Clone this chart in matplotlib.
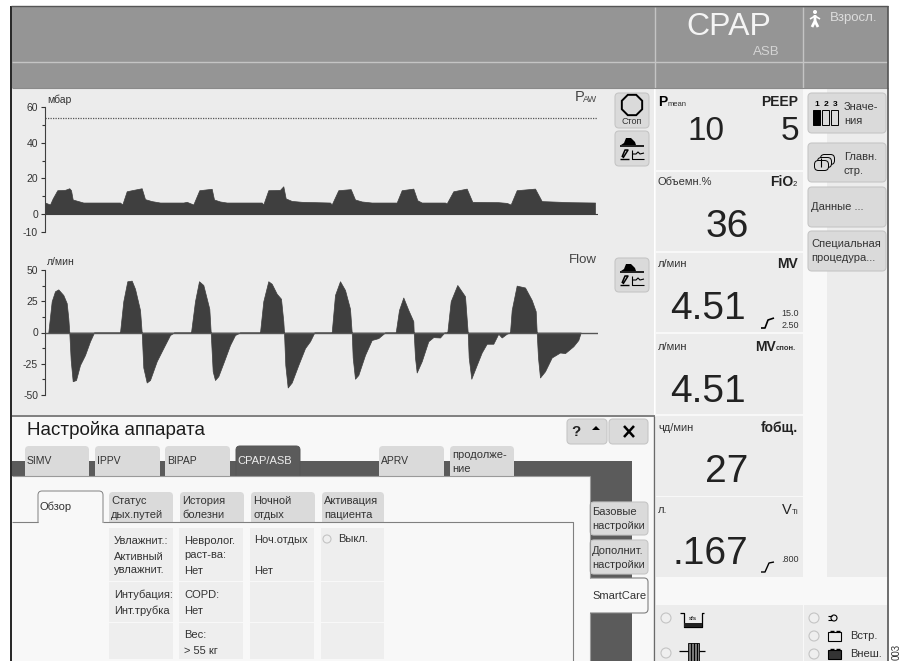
import matplotlib
matplotlib.use('Agg')
import matplotlib.pyplot as plt
from matplotlib.patches import Rectangle, FancyBboxPatch, Circle, RegularPolygon, Polygon

plt.rcParams['font.family'] = ['Liberation Sans', 'DejaVu Sans']
plt.rcParams['axes.unicode_minus'] = False

# one sample per screen pixel, sample 0 is the y axis
pressure_t = [0, 5, 7.7, 12.3, 20, 24.3, 26, 27.7, 33.3, 38.3, 75, 77.3, 81.7, 86.7, 96.7, 100,
              106.7, 115, 138.3, 141.7, 148.3, 154.3, 166.7, 169, 175, 181.7, 216.7, 218.3,
              223.3, 235, 238.3, 240.7, 246.7, 256.7, 285, 286.7, 293.3, 305.7, 310, 316.7,
              326.7, 351.7, 356.7, 368.3, 372.3, 376.7, 400, 401.7, 408.3, 421.7, 427.3, 453.3,
              461.7, 465.7, 471.7, 490, 496.7, 525, 550]
pressure_v = [6.5, 5.4, 8.8, 13.4, 13.6, 14.5, 13.4, 8.2, 7.3, 6.5, 6.5, 5.4, 12.8, 13.4, 14.5, 8.4,
              7.3, 6.5, 6.5, 6.9, 5.4, 13.4, 14.2, 8.2, 7.1, 6.5, 6.5, 5.4,
              13.4, 13.6, 15.6, 8.8, 7.4, 6.9, 6.5, 5.4, 13.4, 14, 8.2, 7.1,
              6.5, 6.5, 13.4, 14.3, 7.8, 6.5, 6.5, 6, 12.8, 14.3, 6.9, 6.7,
              6.3, 5.4, 13.4, 14.3, 7.3, 6.7, 6.5]

flow_t = [3.3, 6.7, 10, 13.3, 18.3, 21.7, 23.3, 24.3, 25.7, 27.7, 31, 35, 40, 45, 49,
          75, 78.3, 82.3, 86.7, 90, 95, 96.7, 98.3, 101.7, 105, 111.7, 118.3, 125, 129,
          146, 150, 154, 158.3, 164.3, 165.7, 167.7, 170, 173.3, 179, 185, 190, 195,
          215, 218.3, 223.3, 226.7, 231.7, 236, 238.3, 239, 240.3, 242.7, 246.7, 253.3, 260, 265, 269.3,
          286.7, 290, 295, 300, 305, 306.7, 307.7, 310, 313.3, 320, 326.7, 333.3, 340,
          350.7, 354, 358.3, 363.3, 368.3, 368.7, 370, 371.7, 376.7, 383.3, 388.3, 395, 399.3,
          402.3, 405.7, 412.3, 420, 422.7, 423.7, 426.3, 431.7, 436.7, 441.7, 448.3, 453.3, 456.7, 461.7, 465,
          466.7, 471.7, 480, 486.7, 490.7, 491.7, 493, 495, 500, 506.7, 515, 520, 528.3, 533.3, 535.7]
flow_v = [0, 25, 33, 34.5, 30, 23.5, 11.5, 0, -22, -39, -38, -26, -18, -7, 0,
          0, 25, 41, 41.5, 35, 18, 0, -28, -40, -38, -23, -12.5, -2, 0,
          0, 25, 41, 38, 19, 0, -31, -38, -35, -23, -10, -2, 0,
          0, 25, 41, 39, 31, 27, 9, 0, -26, -44, -40, -26, -12.5, -7, 0,
          0, 30, 41, 34, 19, 0, -20, -37, -34, -18, -6, -4.5, 0,
          0, 18, 28, 18, 9, 0, -20, -32, -23, -7, -3.7, -4, 0,
          0, 25, 38, 29, 0, -20, -37, -26, -16, -9, -9, -1, -4, -1, 0,
          18, 37.5, 36, 26, 17, 0, -20, -36, -31, -20, -16, -16.5, -11, -6, 0]

pressure_ticks = [60, 40, 20, 0, -10]
pressure_minor = [50, 30, 10]
flow_ticks = [50, 25, 0, -25, -50]
flow_minor = [37.5, 12.5, -12.5, -37.5]
alarm_limit = 54

W, H = 907, 661
DARK = '#3f3f3f'
PANEL = '#ececec'
HEAD = '#959595'
TAB = '#dadada'
STRIP = '#5b5b5b'
TXT = '#333333'
VALUE = '#222222'
WHITE = '#f8f8f8'

fig = plt.figure(figsize=(W / 100, H / 100), dpi=100, facecolor='white')
bg = fig.add_axes([0, 0, 1, 1])
bg.set_xlim(0, W)
bg.set_ylim(H, 0)
bg.axis('off')


def box(x0, y0, x1, y1, color, z=1):
    bg.add_patch(Rectangle((x0, y0), x1 - x0, y1 - y0, fc=color, ec='none', zorder=z))


def button(x0, y0, x1, y1, color=TAB, edge='#c6c6c6', z=3):
    bg.add_patch(FancyBboxPatch((x0 + 3, y0 + 3), x1 - x0 - 6, y1 - y0 - 6,
                                boxstyle='round,pad=3,rounding_size=4', fc=color, ec=edge, lw=0.8, zorder=z))


def label(x, y, s, size=8, color=TXT, ha='left', va='center', **kw):
    bg.text(x, y, s, fontsize=size, color=color, ha=ha, va=va, zorder=6, **kw)


def lines(pts, color='black', lw=1.0, z=5):
    bg.plot([p[0] for p in pts], [p[1] for p in pts], color=color, lw=lw, zorder=z, solid_capstyle='butt')


def wave_icon(x, y):
    # little curve / loop button symbol, x,y is its top left corner
    bg.add_patch(Polygon([(x + 1, y + 8), (x + 4, y + 6), (x + 6, y + 1), (x + 11, y + 1), (x + 15, y + 5),
                          (x + 16, y + 8)], fc='black', ec='none', zorder=5))
    lines([(x, y + 8.5), (x + 24, y + 8.5)], lw=1.2)
    lines([(x, y + 22), (x + 9, y + 22)], lw=1.0)
    lines([(x + 2, y + 20), (x + 5, y + 13), (x + 8, y + 13), (x + 3, y + 21)], lw=1.1)
    lines([(x + 12, y + 13), (x + 12, y + 22), (x + 24, y + 22)], lw=0.8)
    lines([(x + 13, y + 17), (x + 16, y + 17), (x + 18, y + 15), (x + 20, y + 17), (x + 24, y + 16)], lw=0.8)


def radio(x, y, r=5):
    bg.add_patch(Circle((x, y), r, fc='#efefef', ec='#c4c4c4', lw=0.8, zorder=5))


def top_tab(x0, x1, y0, y1, color, edge='none', z=2.5):
    # rounded on top, square at the bottom
    bg.add_patch(FancyBboxPatch((x0 + 3, y0 + 3), x1 - x0 - 6, y1 - y0, boxstyle='round,pad=3,rounding_size=4',
                                fc=color, ec=edge, lw=0.7, zorder=z))


# window frame
box(12, 7, 888, 88, HEAD)
box(12, 88, 654, 415, PANEL)
box(655, 88, 888, 661, WHITE)
box(827, 88, 888, 577, PANEL)
lines([(11, 6), (11, 661)], lw=1.2, z=7)
lines([(11, 6), (888, 6)], color='#555555', lw=1.0, z=7)
lines([(888, 6), (888, 661)], color='#555555', lw=1.2, z=7)
lines([(12, 62), (888, 62)], color='#c4c4c4', lw=1.0)
lines([(655, 7), (655, 88)], color='#c4c4c4', lw=1.0)
lines([(803, 7), (803, 88)], color='#c4c4c4', lw=1.0)
lines([(12, 88), (888, 88)], color='#8a8a8a', lw=0.8)

# header
label(729, 27, 'CPAP', size=23, color='#f4f4f4', ha='center')
label(766, 52, 'ASB', size=9.5, color='#d4d4d4', ha='center')
label(830, 18, 'Взросл.', size=9.5, color='#dddddd')
bg.add_patch(Circle((815, 12), 2, fc='white', ec='none', zorder=5))
lines([(815, 15), (815, 21), (812, 27)], color='white', lw=2)
lines([(815, 21), (818, 27)], color='white', lw=2)
lines([(810, 19), (815, 16), (820, 19)], color='white', lw=1.2)

# pressure and flow curves, real axes over the panel
ax_p = fig.add_axes([45 / W, 1 - 232 / H, 553.3 / W, 125 / H])
ax_p.patch.set_alpha(0)
ax_p.set_xlim(0, 553.3)
ax_p.set_ylim(-10, 60)
ax_p.fill_between(pressure_t, pressure_v, 0, color=DARK, lw=0.5)
ax_p.axhline(alarm_limit, color='#555555', lw=0.9, ls=(0, (1, 1)))
ax_p.axhline(0, color=DARK, lw=0.8)
ax_p.set_yticks(pressure_ticks)
ax_p.set_yticks(pressure_minor, minor=True)

ax_f = fig.add_axes([45 / W, 1 - 395 / H, 553.3 / W, 125 / H])
ax_f.patch.set_alpha(0)
ax_f.set_xlim(0, 553.3)
ax_f.set_ylim(-50, 50)
ax_f.fill_between(flow_t, flow_v, 0, color=DARK, lw=0.5)
ax_f.axhline(0, color='#555555', lw=1)
ax_f.set_yticks(flow_ticks)
ax_f.set_yticks(flow_minor, minor=True)

for ax in (ax_p, ax_f):
    for side in ('top', 'right', 'bottom'):
        ax.spines[side].set_visible(False)
    ax.spines['left'].set_color(DARK)
    ax.spines['left'].set_linewidth(0.8)
    ax.set_xticks([])
    ax.tick_params(axis='y', which='major', length=3, width=0.8, pad=2, labelsize=7.5, colors=TXT)
    ax.tick_params(axis='y', which='minor', length=2.5, width=0.8, colors=TXT)

label(47, 100, 'мбар', size=7.5)
label(47, 262, 'л/мин', size=7.5)
label(575, 97, 'P', size=10.5, color='#444444')
label(583, 99, 'AW', size=6.5, color='#444444')
label(597, 260, 'Flow', size=9.5, color='#444444', ha='right')

# buttons beside the curves
button(615, 93, 649, 128)
bg.add_patch(RegularPolygon((632, 105), 8, radius=11, orientation=0.3927, fc='none', ec='black', lw=1.4, zorder=5))
label(632, 121, 'Стоп', size=6.5, ha='center')
button(615, 131, 649, 166)
wave_icon(620, 137)
button(615, 258, 649, 292)
wave_icon(620, 263)

# lower window
box(12, 416, 654, 661, WHITE)
lines([(12, 416), (655, 416)], color='#6a6a6a', lw=1.2)
lines([(654, 416), (654, 661)], color='#6a6a6a', lw=1.0)
label(27, 430, 'Настройка аппарата', size=13.5, color='#1c1c1c')
button(567, 419, 607, 444)
button(609, 419, 648, 444)
label(576, 432, '?', size=11, color=VALUE, ha='center', fontweight='bold')
bg.add_patch(Polygon([(592, 430), (596, 426), (600, 430)], fc='black', ec='none', zorder=5))
lines([(624, 426), (634, 437)], lw=1.8)
lines([(634, 426), (624, 437)], lw=1.8)

box(12, 461, 632, 476, STRIP, z=2)
box(590, 476, 632, 661, STRIP, z=2)

mode_tabs = [(25, 89, 'SIMV'), (95, 160, 'IPPV'), (165, 230, 'BIPAP'), (379, 444, 'APRV')]
for x0, x1, s in mode_tabs:
    top_tab(x0, x1, 446, 476, TAB)
    label(x0 + 2, 461.5, s, size=7.5)
top_tab(236, 300, 446, 476, STRIP, edge='#555555')
label(237, 461.5, 'CPAP/ASB', size=8, color='#eeeeee')
top_tab(450, 514, 446, 476, TAB)
label(452, 462, 'продолже-\nние', size=8, linespacing=1.45)
box(12, 476, 590, 661, WHITE, z=2.7)
box(590, 476, 632, 500, STRIP, z=2.7)
lines([(12, 476), (590, 476)], color='#9a9a9a', lw=0.8)
lines([(590, 476), (590, 578)], color='#9a9a9a', lw=0.8)
lines([(590, 613), (590, 661)], color='#9a9a9a', lw=0.8)

# inner tabs
inner_tabs = [(109, 173, 'Статус\nдых.путей'), (180, 244, 'История\nболезни'),
              (251, 315, 'Ночной\nотдых'), (322, 384, 'Активация\nпациента')]
for x0, x1, s in inner_tabs:
    top_tab(x0, x1, 492, 523, TAB, z=2.8)
    label(x0 + 2, 508, s, size=8, linespacing=1.45)
box(12, 523, 573, 661, WHITE, z=3)
top_tab(38, 103, 491, 522, WHITE, edge='#808080', z=2.9)
box(39, 523, 103, 530, WHITE, z=3.1)
label(40, 507, 'Обзор', size=8)
lines([(12, 522), (38, 522)], color='#808080', lw=0.8)
lines([(103, 522), (573, 522), (573, 661)], color='#808080', lw=0.8)

columns = [(109, 173), (179, 243), (250, 314), (321, 384)]
rows = [(528, 581), (582, 622), (623, 659)]
for x0, x1 in columns:
    for y0, y1 in rows:
        box(x0, y0, x1, y1, '#eeeeee', z=3.2)
cell_text = [(114, 541, 'Увлажнит.:'), (114, 563.5, 'Активный\nувлажнит.'), (184, 548, 'Невролог.\nраст-ва:'),
             (184, 571, 'Нет'), (254, 540, 'Ноч.отдых'), (254, 571, 'Нет'), (114, 595, 'Интубация:'),
             (114, 611, 'Инт.трубка'), (184, 595, 'COPD:'), (184, 611, 'Нет'), (184, 635, 'Вес:'),
             (184, 651, '> 55 кг'), (338, 539, 'Выкл.')]
for x, y, s in cell_text:
    label(x, y, s, size=8, linespacing=1.45)
radio(327, 539, 4)

# side tabs
button(590, 502, 648, 535)
button(590, 540, 648, 574)
label(592, 519, 'Базовые\nнастройки', size=8, linespacing=1.45)
label(592, 558, 'Дополнит.\nнастройки', size=8, linespacing=1.45)
button(582, 578, 648, 613, color=WHITE, edge='#808080', z=3.4)
box(580, 576, 590, 615, WHITE, z=3.5)
box(590, 579, 592, 612, WHITE, z=3.5)
label(592, 596, 'SmartCare', size=8)

# measured value cells
cells = [(89, 170), (172, 251), (253, 332), (334, 414), (416, 496), (497, 577)]
for y0, y1 in cells:
    box(656, y0, 803, y1, PANEL, z=2)
label(658, 102, 'P', size=10, color='black', fontweight='bold')
label(668, 105, 'mean', size=5.5)
label(798, 102, 'PEEP', size=10, color=VALUE, ha='right', fontweight='bold')
label(706, 132, '10', size=24, color=VALUE, ha='center')
label(799, 132, '5', size=24, color=VALUE, ha='right')
label(658, 182, 'Объемн.%', size=8)
label(793, 182, 'FiO', size=10, color=VALUE, ha='right', fontweight='bold')
label(793, 184, '2', size=5.5, color=VALUE)
label(727, 227, '36', size=28, color=VALUE, ha='center')
label(658, 264, 'л/мин', size=8)
label(798, 264, 'MV', size=10, color=VALUE, ha='right', fontweight='bold')
label(708, 309, '4.51', size=28, color=VALUE, ha='center')
label(799, 314, '15.0', size=6.5, ha='right')
label(799, 326, '2.50', size=6.5, ha='right')
lines([(761, 328), (765, 328), (768, 320), (774, 318)], lw=1.2)
label(658, 347, 'л/мин', size=8)
label(776, 347, 'MV', size=10, color=VALUE, ha='right', fontweight='bold')
label(776, 349, 'спон.', size=5.5, fontweight='bold')
label(708, 392, '4.51', size=28, color=VALUE, ha='center')
label(658, 428, 'чд/мин', size=8)
label(798, 428, 'fобщ.', size=10, color=VALUE, ha='right', fontweight='bold')
label(727, 472, '27', size=28, color=VALUE, ha='center')
label(658, 510, 'л.', size=8)
label(792, 510, 'V', size=10.5, color=VALUE, ha='right')
label(792, 512, 'Ti', size=6)
label(710, 554, '.167', size=28, color=VALUE, ha='center')
label(799, 559, '.800', size=6.5, ha='right')
lines([(761, 572), (765, 572), (769, 563), (774, 562)], lw=1.0)

# right hand buttons
button(808, 93, 886, 133)
button(808, 143, 886, 182)
button(808, 187, 886, 227)
button(808, 231, 886, 271)
label(844, 114, 'Значе-\nния', size=8, linespacing=1.45)
label(844, 164, 'Главн.\nстр.', size=8, linespacing=1.45)
label(811, 207, 'Данные ...', size=8)
label(811, 251, 'Специальная\nпроцедура...', size=8, linespacing=1.45)
for i, s in enumerate('123'):
    label(817 + i * 9, 104, s, size=6, color='black', ha='center', fontweight='bold')
    bg.add_patch(Rectangle((813 + i * 9, 110), 7, 15, fc='black' if i == 0 else 'none', ec='black', lw=0.7, zorder=5))
for dx in (6, 3, 0):
    bg.add_patch(FancyBboxPatch((816 + dx, 162 - dx), 11, 7, boxstyle='round,pad=1.5,rounding_size=4', fc=TAB,
                                ec='black', lw=0.7, zorder=5))
lines([(821, 158), (821, 167)], lw=0.8, z=6)

# status strip
box(656, 605, 803, 661, PANEL, z=2)
box(804, 605, 887, 661, PANEL, z=2)
radio(666, 618)
radio(666, 653)
lines([(680, 613), (684, 613), (684, 627), (702, 627), (702, 613), (704, 613)], lw=0.9)
box(684, 623, 702, 627, '#222222', z=5)
label(693, 619, 'sfs', size=4.5, color='black', ha='center')
bg.add_patch(Rectangle((688, 643), 11, 18, fc='#777777', ec='black', lw=0.6, zorder=4))
for hatch_x in (691, 694, 697):
    lines([(hatch_x, 643), (hatch_x, 661)], lw=0.7)
lines([(679, 651), (688, 651)], lw=0.9)
lines([(699, 651), (705, 651)], lw=0.9)
radio(814, 618)
radio(814, 636)
radio(814, 654)
label(850, 636, 'Встр.', size=8)
label(850, 654, 'Внеш.', size=8)
bg.add_patch(Circle((834, 618), 3, fc='none', ec='black', lw=0.8, zorder=5))
lines([(828, 616), (832, 616)], lw=0.8)
lines([(828, 620), (832, 620)], lw=0.8)
bg.add_patch(Rectangle((828, 632), 13, 9, fc='none', ec='black', lw=0.8, zorder=5))
bg.add_patch(Rectangle((828, 650), 13, 9, fc='#333333', ec='black', lw=0.8, zorder=5))
for y_top in (631, 649):
    lines([(830, y_top), (834, y_top)], lw=1.0)
    lines([(836, y_top), (840, y_top)], lw=1.0)

bg.text(897, 660, '003', fontsize=7, color=TXT, rotation=90, ha='center', va='bottom', zorder=6)

fig.savefig('out.png', dpi=100)
